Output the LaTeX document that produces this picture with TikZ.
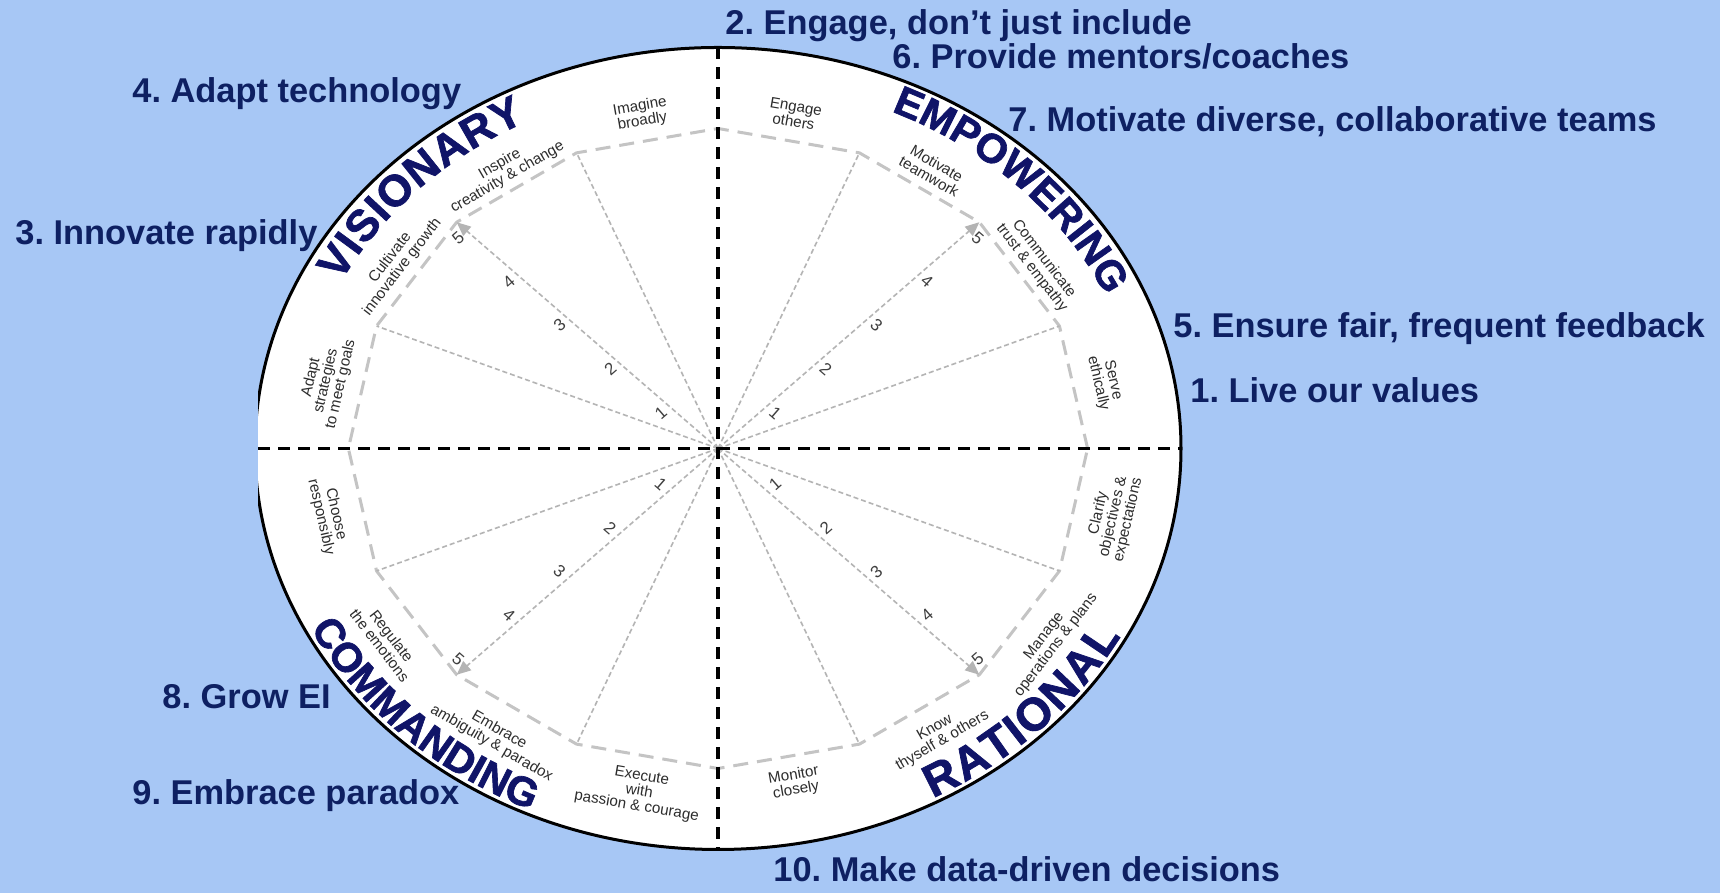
\documentclass[tikz,border=0pt]{standalone}
\usepackage{fontspec}
\setmainfont{Liberation Sans}
\newfontface\heavyface[FakeBold=1.6]{Liberation Sans Bold}
\usetikzlibrary{decorations.text, arrows.meta}
\definecolor{bgblue}{RGB}{167,199,245}
\definecolor{navy}{RGB}{14,32,98}
\definecolor{wordnavy}{RGB}{16,20,104}
\definecolor{ringgray}{RGB}{196,196,196}
\definecolor{spokegray}{RGB}{180,180,180}
\definecolor{labelgray}{RGB}{45,45,45}
\begin{document}
\frenchspacing
\begin{tikzpicture}[x=0.5pt, y=0.5pt,
  outerlabel/.style={anchor=base west, inner sep=0pt, text=navy, font=\fontsize{17.2}{20}\selectfont\bfseries},
  sectorlabel/.style={align=center, inner sep=0pt, text=labelgray, font=\fontsize{7.6}{7.6}\selectfont},
  numlabel/.style={inner sep=0pt, text=black!75, font=\fontsize{8.5}{9}\selectfont},
  axisline/.style={black, line width=1.6pt, dash pattern=on 6pt off 4pt},
  ringline/.style={ringgray, line width=1.5pt, dash pattern=on 7.5pt off 4.5pt},
  spokeline/.style={spokegray, line width=0.8pt, dash pattern=on 2.5pt off 1.5pt},
  arrowspoke/.style={spokeline, -{Triangle[length=7pt,width=6pt]}},
  wordpath/.style 2 args={decorate, decoration={text along path, text align={fit to path}, text color=wordnavy, text={|\fontsize{#1}{#1}\heavyface|#2}}}
]
\fill[bgblue] (0,0) rectangle (1720,893);
\useasboundingbox (0,0) rectangle (1720,893);

\begin{scope}[shift={(718,444.5)}]
  \coordinate (O) at (0,0);
  \begin{scope}
    \clip (-460,-450) rectangle (1002,450);
    \draw[fill=white, line width=1.5pt] (O) ellipse [x radius=463, y radius=401];
  \end{scope}

  % inner dashed 16-gon ring
  \draw[ringline] plot[samples at={0,22.5,...,337.5}] ({1.155*320*cos(\x)},{320*sin(\x)}) -- cycle;

  % spokes
  \foreach \k in {1,3,5,7,9,11,13,15} {
    \coordinate (S\k) at ({1.155*320*cos(\k*22.5)},{320*sin(\k*22.5)});
    \draw[spokeline] (O) -- (S\k);
  }
  \foreach \k in {2,6,10,14} {
    \coordinate (S\k) at ({1.155*320*cos(\k*22.5)},{320*sin(\k*22.5)});
    \draw[arrowspoke] (O) -- (S\k);
  }

  % numbers on the scale spokes
  \foreach \t/\m in {45/-45, 135/225, 225/135, 315/405} {
    \pgfmathsetmacro\rot{atan2(cos(\t),-1.155*sin(\t))+(\t<180?180:0)}
    \foreach \n in {1,...,5} {
      \pgfmathsetmacro\rr{62*\n-2}
      \pgfmathsetmacro\px{1.155*(\rr*cos(\t)+10*cos(\m))}
      \pgfmathsetmacro\py{\rr*sin(\t)+10*sin(\m)}
      \node[numlabel, rotate=\rot] (n\t-\n) at (\px,\py) {\n};
    }
  }

  % sector labels
  \foreach \a/\r/\t [count=\i] in {
    11.25/342/{Serve\\ethically},
    33.75/333/{Communicate\\trust \& empathy},
    56.25/335/{Motivate\\teamwork},
    78.75/341/{Engage\\others},
    101.25/341/{Imagine\\broadly},
    123.75/334/{Inspire\\creativity \& change},
    146.25/335/{Cultivate\\innovative growth},
    168.75/346/{Adapt\\strategies\\to meet goals},
    191.25/344/{Choose\\responsibly},
    213.75/346/{Regulate\\the emotions},
    236.25/347/{Embrace\\ambiguity \& paradox},
    258.75/350/{Execute\\with\\passion \& courage},
    281.25/341/{Monitor\\closely},
    303.75/344/{Know\\thyself \& others},
    326.25/346/{Manage\\operations \& plans},
    348.75/349/{Clarify\\objectives \&\\expectations}} {
    \pgfmathsetmacro\rot{atan2(cos(\a),-1.155*sin(\a))+(\a<180?180:0)}
    \pgfmathsetmacro\px{1.155*\r*cos(\a)}
    \pgfmathsetmacro\py{\r*sin(\a)}
    \node[sectorlabel, rotate=\rot] (lab\i) at (\px,\py) {\t};
  }

  % quadrant words along the rim
  \path[wordpath={22}{VISIONARY}] ({423.3*cos(153)},{366.5*sin(153)}) arc[start angle=153, end angle=117, x radius=423.3, y radius=366.5];
  \path[wordpath={20.5}{EMPOWERING}] ({426.2*cos(66)},{369*sin(66)}) arc[start angle=66, end angle=24.8, x radius=426.2, y radius=369];
  \path[wordpath={20.5}{COMMANDING}] ({457.4*cos(207)},{396*sin(207)}) arc[start angle=207, end angle=245.6, x radius=457.4, y radius=396];
  \path[wordpath={23}{RATIONAL}] ({457.4*cos(298)},{396*sin(298)}) arc[start angle=298, end angle=331.7, x radius=457.4, y radius=396];

  % axes
  \coordinate (L) at (-460,0);
  \coordinate (Rt) at (463,0);
  \coordinate (T) at (0,401);
  \coordinate (B) at (0,-401);
  \draw[axisline] (L) -- (Rt);
  \draw[axisline] (T) -- (B);
\end{scope}

% outer labels
\node[outerlabel] (g2) at (725,858) {2. Engage, don’t just include};
\node[outerlabel] (g6) at (892,824) {6. Provide mentors/coaches};
\node[outerlabel] (g7) at (1008,761) {7. Motivate diverse, collaborative teams};
\node[outerlabel] (g4) at (132,790) {4. Adapt technology};
\node[outerlabel] (g3) at (15,648) {3. Innovate rapidly};
\node[outerlabel] (g5) at (1173,555) {5. Ensure fair, frequent feedback};
\node[outerlabel] (g1) at (1190,490) {1. Live our values};
\node[outerlabel] (g8) at (162,184) {8. Grow EI};
\node[outerlabel] (g9) at (132,88) {9. Embrace paradox};
\node[outerlabel] (g10) at (773,11) {10. Make data-driven decisions};
\end{tikzpicture}
\end{document}
